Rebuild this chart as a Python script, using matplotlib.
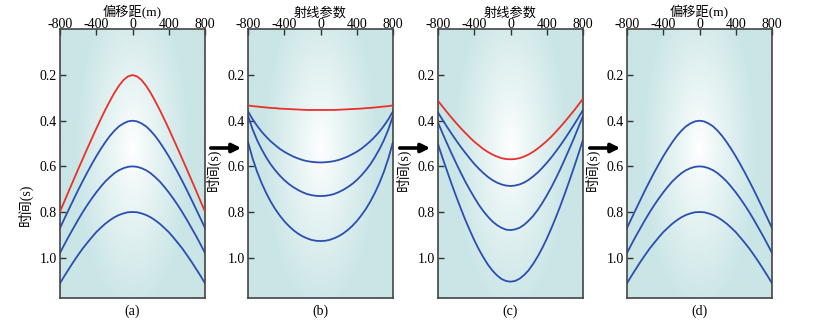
import numpy as np
import matplotlib
matplotlib.use("Agg")
import matplotlib.pyplot as plt
from matplotlib.patches import FancyArrowPatch
from matplotlib.colors import to_rgb

plt.rcParams['font.family'] = ['Liberation Serif', 'Noto Sans CJK SC', 'DejaVu Sans']

# offsets / ray parameters (same grid for all panels)
xs = [-800, -750, -700, -650, -600, -550, -500, -450, -400, -350, -300, -250, -200, -150, -100, -50, 0,
      50, 100, 150, 200, 250, 300, 350, 400, 450, 500, 550, 600, 650, 700, 750, 800]

# (a) CMP gather, hyperbolas
a_red = [0.798, 0.752, 0.705, 0.659, 0.613, 0.568, 0.523, 0.479, 0.435, 0.393, 0.352, 0.314, 0.278, 0.247, 0.222, 0.206, 0.200,
         0.206, 0.222, 0.247, 0.278, 0.314, 0.352, 0.393, 0.435, 0.479, 0.523, 0.568, 0.613, 0.659, 0.705, 0.752, 0.798]
a_blue1 = [0.870, 0.828, 0.786, 0.745, 0.704, 0.665, 0.627, 0.591, 0.556, 0.524, 0.494, 0.467, 0.444, 0.425, 0.412, 0.403, 0.400,
           0.403, 0.412, 0.425, 0.444, 0.467, 0.494, 0.524, 0.556, 0.591, 0.627, 0.665, 0.704, 0.745, 0.786, 0.828, 0.870]
a_blue2 = [0.979, 0.941, 0.904, 0.869, 0.834, 0.801, 0.770, 0.741, 0.714, 0.689, 0.666, 0.647, 0.630, 0.617, 0.608, 0.602, 0.600,
           0.602, 0.608, 0.617, 0.630, 0.647, 0.666, 0.689, 0.714, 0.741, 0.770, 0.801, 0.834, 0.869, 0.904, 0.941, 0.979]
a_blue3 = [1.112, 1.079, 1.048, 1.017, 0.988, 0.960, 0.935, 0.911, 0.888, 0.869, 0.851, 0.836, 0.823, 0.813, 0.806, 0.801, 0.800,
           0.801, 0.806, 0.813, 0.823, 0.836, 0.851, 0.869, 0.888, 0.911, 0.935, 0.960, 0.988, 1.017, 1.048, 1.079, 1.112]

# (b) tau-p
b_red = [0.333, 0.336, 0.338, 0.340, 0.342, 0.344, 0.345, 0.347, 0.348, 0.349, 0.350, 0.351, 0.352, 0.353, 0.353, 0.353, 0.353,
         0.353, 0.353, 0.353, 0.352, 0.351, 0.350, 0.349, 0.348, 0.347, 0.345, 0.344, 0.342, 0.340, 0.338, 0.336, 0.333]
b_blue1 = [0.359, 0.393, 0.422, 0.448, 0.470, 0.490, 0.507, 0.523, 0.536, 0.547, 0.557, 0.565, 0.572, 0.577, 0.580, 0.582, 0.583,
           0.582, 0.580, 0.577, 0.572, 0.565, 0.557, 0.547, 0.536, 0.523, 0.507, 0.490, 0.470, 0.448, 0.422, 0.393, 0.359]
b_blue2 = [0.379, 0.437, 0.485, 0.525, 0.560, 0.591, 0.617, 0.640, 0.660, 0.677, 0.691, 0.703, 0.713, 0.721, 0.726, 0.729, 0.730,
           0.729, 0.726, 0.721, 0.713, 0.703, 0.691, 0.677, 0.660, 0.640, 0.617, 0.591, 0.560, 0.525, 0.485, 0.437, 0.379]
b_blue3 = [0.493, 0.564, 0.623, 0.673, 0.716, 0.754, 0.787, 0.815, 0.840, 0.861, 0.879, 0.894, 0.906, 0.915, 0.922, 0.926, 0.927,
           0.926, 0.922, 0.915, 0.906, 0.894, 0.879, 0.861, 0.840, 0.815, 0.787, 0.754, 0.716, 0.673, 0.623, 0.564, 0.493]

# (c) tau-p after correction
c_red = [0.313, 0.338, 0.363, 0.387, 0.410, 0.432, 0.453, 0.473, 0.492, 0.508, 0.524, 0.537, 0.548, 0.557, 0.564, 0.568, 0.569,
         0.568, 0.564, 0.557, 0.548, 0.536, 0.522, 0.506, 0.489, 0.470, 0.449, 0.427, 0.404, 0.380, 0.356, 0.330, 0.304]
c_blue1 = [0.364, 0.396, 0.427, 0.457, 0.486, 0.514, 0.540, 0.565, 0.589, 0.610, 0.629, 0.646, 0.660, 0.671, 0.679, 0.684, 0.686,
           0.684, 0.679, 0.671, 0.659, 0.644, 0.627, 0.607, 0.585, 0.561, 0.535, 0.508, 0.479, 0.449, 0.418, 0.386, 0.353]
c_blue2 = [0.408, 0.455, 0.500, 0.544, 0.586, 0.627, 0.666, 0.702, 0.736, 0.768, 0.796, 0.820, 0.841, 0.857, 0.869, 0.877, 0.879,
           0.876, 0.869, 0.856, 0.838, 0.817, 0.791, 0.761, 0.728, 0.692, 0.653, 0.612, 0.568, 0.523, 0.477, 0.428, 0.379]
c_blue3 = [0.503, 0.563, 0.620, 0.677, 0.731, 0.783, 0.833, 0.879, 0.923, 0.963, 0.998, 1.030, 1.056, 1.077, 1.093, 1.102, 1.105,
           1.102, 1.092, 1.076, 1.055, 1.027, 0.995, 0.958, 0.917, 0.872, 0.824, 0.773, 0.719, 0.663, 0.605, 0.545, 0.484]

# (d) CMP gather after multiple removal
d_blue1 = [0.870, 0.828, 0.786, 0.745, 0.704, 0.665, 0.627, 0.591, 0.556, 0.524, 0.494, 0.467, 0.444, 0.425, 0.412, 0.403, 0.400,
           0.403, 0.412, 0.425, 0.444, 0.467, 0.494, 0.524, 0.556, 0.591, 0.627, 0.665, 0.704, 0.745, 0.786, 0.828, 0.870]
d_blue2 = [0.979, 0.941, 0.904, 0.869, 0.834, 0.801, 0.770, 0.741, 0.714, 0.689, 0.666, 0.647, 0.630, 0.617, 0.608, 0.602, 0.600,
           0.602, 0.608, 0.617, 0.630, 0.647, 0.666, 0.689, 0.714, 0.741, 0.770, 0.801, 0.834, 0.869, 0.904, 0.941, 0.979]
d_blue3 = [1.112, 1.079, 1.048, 1.017, 0.988, 0.960, 0.935, 0.911, 0.888, 0.869, 0.851, 0.836, 0.823, 0.813, 0.806, 0.801, 0.800,
           0.801, 0.806, 0.813, 0.823, 0.836, 0.851, 0.869, 0.888, 0.911, 0.935, 0.960, 0.988, 1.017, 1.048, 1.079, 1.112]

panels = [
    ("(a)", "偏移距(m)", [a_red], [a_blue1, a_blue2, a_blue3]),
    ("(b)", "射线参数", [b_red], [b_blue1, b_blue2, b_blue3]),
    ("(c)", "射线参数", [c_red], [c_blue1, c_blue2, c_blue3]),
    ("(d)", "偏移距(m)", [], [d_blue1, d_blue2, d_blue3]),
]
xticks = [-800, -400, 0, 400, 800]
yticks = [0.2, 0.4, 0.6, 0.8, 1.0]

RED = "#e8312a"
BLUE = "#2a4fb0"
TEAL = "#cae5e6"
W, H = 817, 330

fig = plt.figure(figsize=(W / 100, H / 100), dpi=100)

lefts = [60, 248, 438, 627]
ylab_y = [0.345, 0.476, 0.476, 0.476]

# background glow
gx, gy = np.meshgrid(np.linspace(-1, 1, 120), np.linspace(0, 1.175, 160))
r = np.sqrt((gx / 0.8) ** 2 + ((gy - 0.52) / 0.72) ** 2)
s = np.clip(r, 0, 1) ** 0.9
bg = np.ones((*s.shape, 3)) * (1 - s[..., None]) + np.array(to_rgb(TEAL)) * s[..., None]

for i, (tag, title, reds, blues) in enumerate(panels):
    ax = fig.add_axes([lefts[i] / W, 0.098, 145 / W, 0.813])
    ax.imshow(bg, extent=[-800, 800, 1.175, 0], aspect='auto', zorder=0, interpolation='bilinear')
    for yb in blues:
        ax.plot(xs, yb, color=BLUE, lw=1.3, zorder=2)
    for yr in reds:
        ax.plot(xs, yr, color=RED, lw=1.3, zorder=3)
    ax.set_xlim(-800, 800)
    ax.set_ylim(1.175, 0)
    ax.xaxis.tick_top()
    ax.xaxis.set_label_position('top')
    ax.set_xticks(xticks)
    ax.set_xticklabels([str(t) for t in xticks], fontsize=10)
    ax.set_yticks(yticks)
    ax.set_yticklabels(["%.1f" % t for t in yticks], fontsize=10)
    ax.tick_params(axis='x', direction='in', length=4, width=1.0, pad=-1.5, color='#333333')
    ax.tick_params(axis='y', direction='in', length=4, width=1.0, pad=2.5, color='#333333')
    ax.set_xlabel(title, fontsize=9.5, labelpad=1.5)
    ax.set_ylabel("时间(s)", fontsize=10)
    ax.yaxis.set_label_coords(-0.19, ylab_y[i])
    for sp in ax.spines.values():
        sp.set_color('#444444')
        sp.set_linewidth(1.2)
    ax.text(0.5, -0.05, tag, transform=ax.transAxes, ha='center', va='center', fontsize=10)

# arrows between panels
for x0, x1 in [(208, 244), (397, 433), (587, 623)]:
    arr = FancyArrowPatch((x0 / W, 1 - 148 / H), (x1 / W, 1 - 148 / H), transform=fig.transFigure,
                          arrowstyle='-|>', mutation_scale=13, lw=2.6, color='black')
    fig.add_artist(arr)

fig.savefig("out.png", dpi=100)
